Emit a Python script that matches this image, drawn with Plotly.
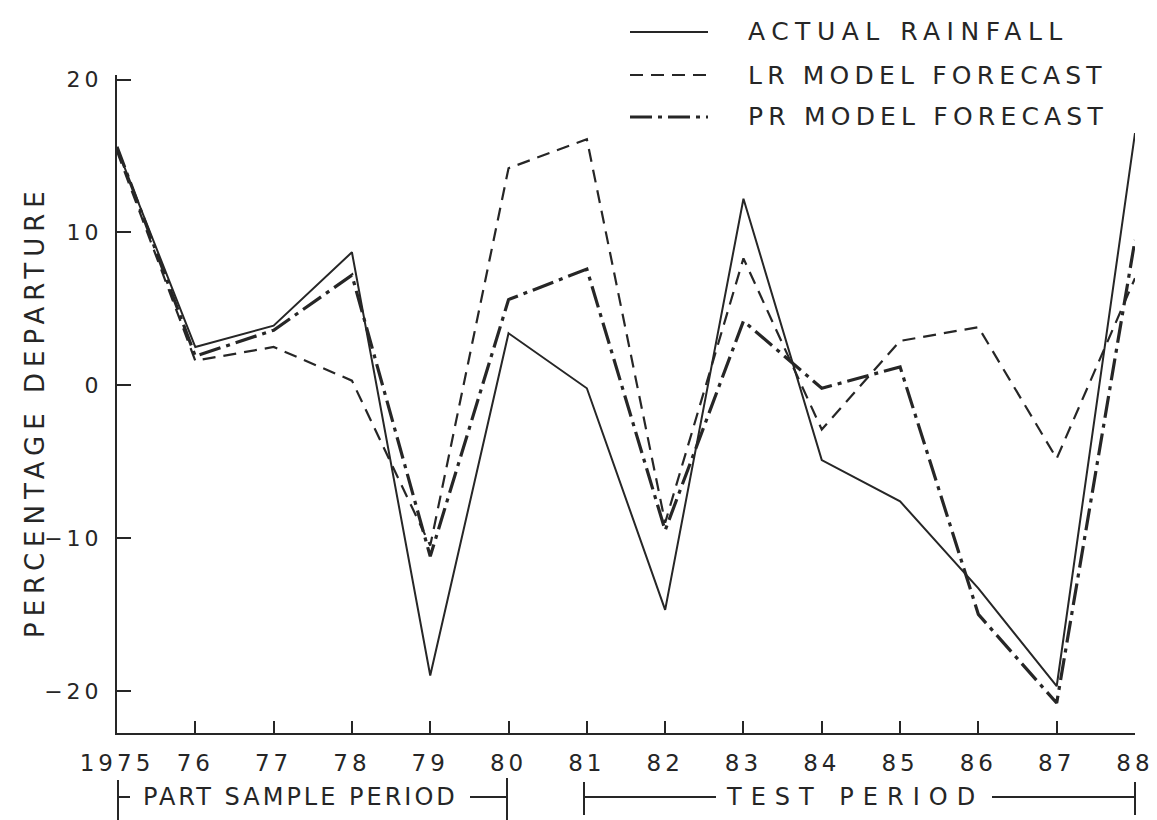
import plotly.graph_objects as go

# ---------------- data ----------------
years = [1975, 1976, 1977, 1978, 1979, 1980, 1981, 1982, 1983, 1984, 1985, 1986, 1987, 1988]
year_labels = ["1975", "76", "77", "78", "79", "80", "81", "82", "83", "84", "85", "86", "87", "88"]
actual_rainfall = [15.5, 2.5, 3.9, 8.7, -19.0, 3.4, -0.2, -14.7, 12.2, -4.9, -7.6, -13.3, -19.7, 16.5]
lr_forecast = [15.3, 1.6, 2.5, 0.3, -10.5, 14.2, 16.1, -9.0, 8.3, -2.9, 2.9, 3.8, -4.8, 7.0]
pr_forecast = [15.6, 1.9, 3.6, 7.2, -11.2, 5.6, 7.6, -9.5, 4.2, -0.2, 1.2, -15.0, -20.8, 9.5]
y_ticks = [-20, -10, 0, 10, 20]
y_tick_labels = ["\u221220", "\u221210", "0", "10", "20"]

INK = "#262626"
FONT = "DejaVu Sans"

def spaced(t, px):
    return f'<span style="letter-spacing:{px}px">{t}</span>'

# layout geometry (pixels)
W, H = 1157, 820
L, R, T, B = 117, 22, 75, 87
PW, PH = W - L - R, H - T - B

def pxx(p):
    return (p - L) / PW

def pxy(p):
    return (H - B - p) / PH

fig = go.Figure()
fig.add_trace(go.Scatter(x=years, y=actual_rainfall, mode="lines", name="ACTUAL RAINFALL",
                         line=dict(color=INK, width=2)))
fig.add_trace(go.Scatter(x=years, y=lr_forecast, mode="lines", name="LR MODEL FORECAST",
                         line=dict(color=INK, width=2.2, dash="13px,8px")))
fig.add_trace(go.Scatter(x=years, y=pr_forecast, mode="lines", name="PR MODEL FORECAST",
                         line=dict(color=INK, width=3.2, dash="22px,6px,4px,6px")))

fig.update_layout(
    width=W, height=H, autosize=False,
    margin=dict(l=L, r=R, t=T, b=B, autoexpand=False),
    paper_bgcolor="white", plot_bgcolor="white",
    showlegend=False,
    font=dict(family=FONT, color=INK),
    xaxis=dict(range=[1975, 1988], tickvals=years,
               ticktext=[spaced(t, 4) for t in year_labels],
               tickfont=dict(size=23, family=FONT, color=INK),
               ticks="inside", ticklen=12, tickwidth=2, tickcolor=INK,
               showline=True, linecolor=INK, linewidth=2,
               showgrid=False, zeroline=False, ticklabelstandoff=8,
               automargin=False, ticklabeloverflow="allow"),
    yaxis=dict(range=[-22.76, 20.3], tickvals=y_ticks,
               ticktext=[spaced(t, 4) for t in y_tick_labels],
               tickfont=dict(size=22, family=FONT, color=INK),
               ticks="inside", ticklen=14, tickwidth=2, tickcolor=INK,
               showline=True, linecolor=INK, linewidth=2,
               showgrid=False, zeroline=False, ticklabelstandoff=8,
               automargin=False),
)

annotations = []
shapes = []

# y-axis title
annotations.append(dict(text=spaced("PERCENTAGE DEPARTURE", 6), xref="paper", yref="paper",
                        x=pxx(35), y=pxy(412), textangle=-90, showarrow=False,
                        font=dict(size=26, family=FONT, color=INK),
                        xanchor="center", yanchor="middle"))

# custom legend
legend_items = [("ACTUAL RAINFALL", "solid", 2, 32, 6.5),
                ("LR MODEL FORECAST", "13px,8px", 2.2, 75, 5.2),
                ("PR MODEL FORECAST", "22px,6px,4px,6px", 3.0, 117, 5.2)]
for label, dash, wdt, ypix, sp in legend_items:
    shapes.append(dict(type="line", xref="paper", yref="paper",
                       x0=pxx(630), x1=pxx(708), y0=pxy(ypix), y1=pxy(ypix),
                       line=dict(color=INK, width=wdt, dash=dash)))
    annotations.append(dict(text=spaced(label, sp), xref="paper", yref="paper",
                            x=pxx(746), y=pxy(ypix), showarrow=False,
                            xanchor="left", yanchor="middle",
                            font=dict(size=25, family=FONT, color=INK)))

# period brackets below axis
yb = pxy(797)

def vbar(xp, top, bot):
    shapes.append(dict(type="line", xref="paper", yref="paper",
                       x0=pxx(xp), x1=pxx(xp), y0=pxy(top), y1=pxy(bot),
                       line=dict(color=INK, width=2)))

def hseg(a, b):
    shapes.append(dict(type="line", xref="paper", yref="paper",
                       x0=pxx(a), x1=pxx(b), y0=yb, y1=yb,
                       line=dict(color=INK, width=2)))

vbar(118, 780, 820)
hseg(118, 130)
hseg(470, 507)
vbar(507, 778, 820)
annotations.append(dict(text=spaced("PART SAMPLE PERIOD", 3), xref="paper", yref="paper",
                        x=pxx(300), y=yb, showarrow=False, xanchor="center", yanchor="middle",
                        font=dict(size=24, family=FONT, color=INK)))

vbar(584, 782, 815)
hseg(584, 716)
hseg(992, 1135)
vbar(1135, 782, 815)
annotations.append(dict(text=spaced("TEST PERIOD", 9), xref="paper", yref="paper",
                        x=pxx(855), y=yb, showarrow=False, xanchor="center", yanchor="middle",
                        font=dict(size=24, family=FONT, color=INK)))

fig.update_layout(annotations=annotations, shapes=shapes)
post = ("document.documentElement.style.overflow='hidden';"
        "document.body.style.margin='0';document.body.style.overflow='hidden';"
        "Plotly.relayout('{plot_id}', {width: %d, height: %d});" % (W, H))
fig.write_html("out.html",
               config={"displayModeBar": False, "responsive": False},
               post_script=post)
